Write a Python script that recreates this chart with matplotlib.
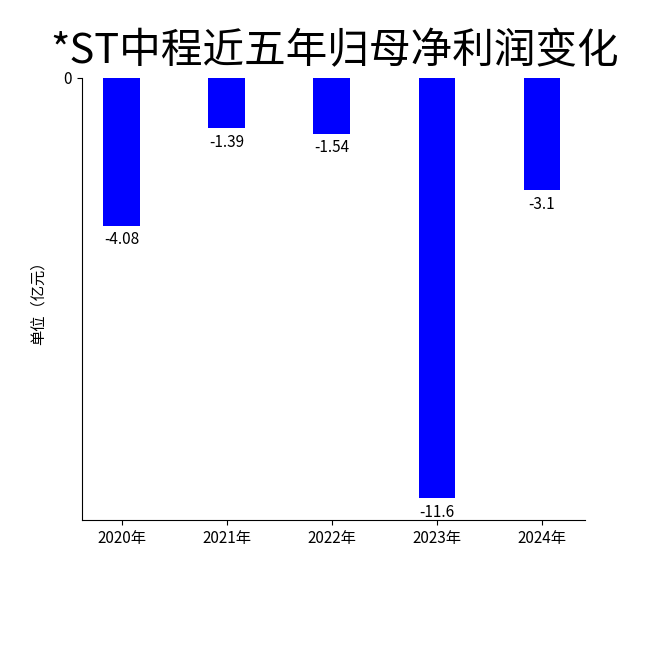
import matplotlib
matplotlib.use("Agg")
import matplotlib.pyplot as plt

plt.rcParams['font.family'] = ['Noto Sans CJK SC', 'DejaVu Sans']

years = ["2020年", "2021年", "2022年", "2023年", "2024年"]
values = [-4.08, -1.39, -1.54, -11.6, -3.1]
labels = ["-4.08", "-1.39", "-1.54", "-11.6", "-3.1"]

fig = plt.figure(figsize=(6.5, 6.5), dpi=100)
ax = fig.add_axes([0.126, 0.2, 0.774, 0.68])
x = list(range(len(years)))
ax.bar(x, values, width=0.35, color="#0000ff")
for xi, v, t in zip(x, values, labels):
    ax.text(xi, v - 0.15, t, ha="center", va="top", fontsize=11)
ax.set_xticks(x)
ax.set_xticklabels(years, fontsize=11)
ax.set_yticks([0])
ax.set_yticklabels(["0"], fontsize=11)
ax.set_xlim(-0.38, 4.41)
ax.set_ylim(-12.2, 0)
ax.spines['top'].set_visible(False)
ax.spines['right'].set_visible(False)
ax.set_ylabel("单位（亿元）", fontsize=11, labelpad=12)
fig.text(0.515, 0.92, "*ST中程近五年归母净利润变化", ha="center", va="center",
         fontsize=30, stretch="condensed")
fig.savefig("out.png", dpi=100)
